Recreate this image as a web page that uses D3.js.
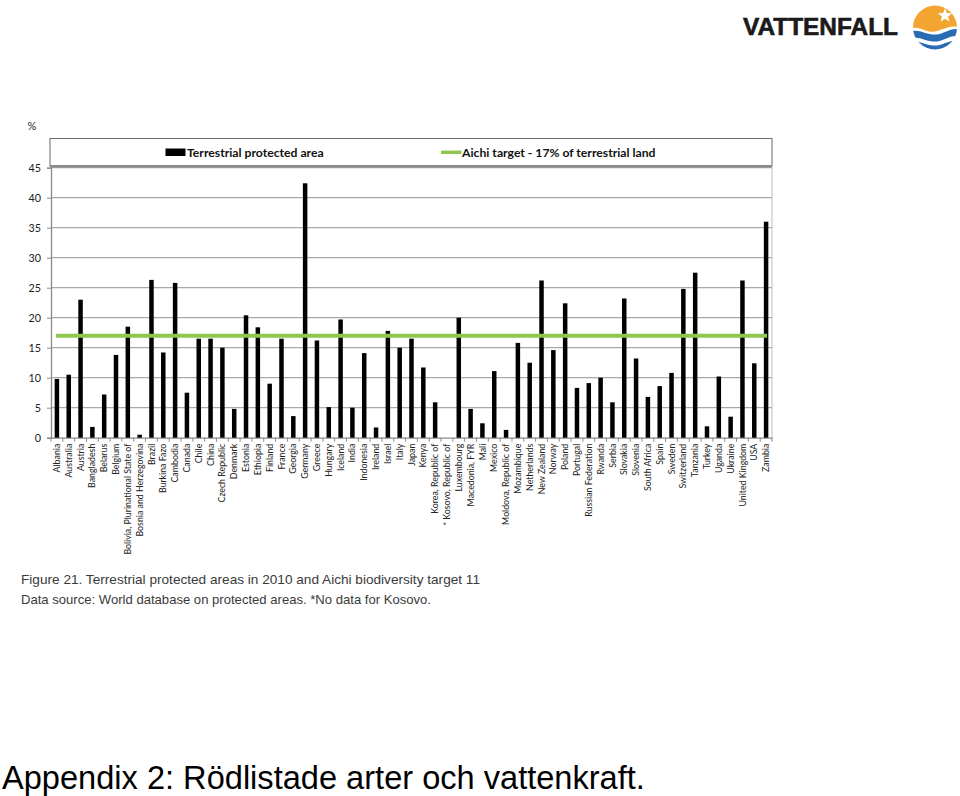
<!DOCTYPE html>
<html>
<head>
<meta charset="utf-8">
<script src="https://cdn.jsdelivr.net/npm/d3@7/dist/d3.min.js"></script>
<style>
  html, body { margin: 0; padding: 0; background: #fff; }
  svg { display: block; }
</style>
</head>
<body>
<svg id="chart" width="960" height="796"></svg>
<script>
// ---------- DATA ----------
const countries = [
  "Albania","Australia","Austria","Bangladesh","Belarus","Belgium",
  "Bolivia, Plurinational State of","Bosnia and Herzegovina","Brazil","Burkina Fazo",
  "Cambodia","Canada","Chile","China","Czech Republic","Denmark","Estonia","Ethiopia",
  "Finland","France","Georgia","Germany","Greece","Hungary","Iceland","India",
  "Indonesia","Ireland","Israel","Italy","Japan","Kenya","Korea, Republic of",
  "* Kosovo, Republic of","Luxembourg","Macedonia, FYR","Mali","Mexico",
  "Moldova, Republic of","Mozambique","Netherlands","New Zealand","Norway","Poland",
  "Portugal","Russian Federation","Rwanda","Serbia","Slovakia","Slovenia",
  "South Africa","Spain","Sweden","Switzerland","Tanzania","Turkey","Uganda",
  "Ukraine","United Kingdom","USA","Zambia"
];
const protectedArea = [
  9.8, 10.5, 23.0, 1.8, 7.2, 13.8,
  18.5, 0.5, 26.3, 14.2,
  25.8, 7.5, 16.5, 16.5, 15.0, 4.8, 20.4, 18.4,
  9.0, 16.5, 3.6, 42.4, 16.2, 5.1, 19.7, 5.0,
  14.1, 1.7, 17.8, 15.0, 16.5, 11.7, 5.9,
  null, 20.0, 4.8, 2.4, 11.1,
  1.3, 15.8, 12.5, 26.2, 14.6, 22.4,
  8.3, 9.1, 10.0, 5.9, 23.2, 13.2,
  6.8, 8.6, 10.8, 24.8, 27.5, 1.9, 10.2,
  3.5, 26.2, 12.4, 36.0
];
const aichiTarget = 17;
const yTicks = [0, 5, 10, 15, 20, 25, 30, 35, 40, 45];
const legendLabels = ["Terrestrial protected area", "Aichi target - 17% of terrestrial land"];
const yUnit = "%";
const captionLines = [
  "Figure 21. Terrestrial protected areas in 2010 and Aichi biodiversity target 11",
  "Data source: World database on protected areas. *No data for Kosovo."
];
const pageTitle = "Appendix 2: Rödlistade arter och vattenkraft.";
const brand = "VATTENFALL";

// ---------- LAYOUT ----------
const svg = d3.select("#chart");
const plot = { left: 51, right: 772, top: 167.7, bottom: 437.7 };
const chartFont = "Lato, 'DejaVu Sans', sans-serif";

const x = d3.scaleBand()
  .domain(countries)
  .range([plot.left, plot.right])
  .paddingInner(0.62)
  .paddingOuter(0.31);

const y = d3.scaleLinear()
  .domain([0, 45])
  .range([plot.bottom, plot.top]);

// gridlines
svg.append("g")
  .selectAll("line")
  .data(yTicks.filter(d => d > 0))
  .join("line")
  .attr("x1", plot.left).attr("x2", plot.right)
  .attr("y1", d => y(d)).attr("y2", d => y(d))
  .attr("stroke", "#a9a9a9")
  .attr("stroke-width", 1.3);

// right border of plot
svg.append("line")
  .attr("x1", plot.right).attr("x2", plot.right)
  .attr("y1", plot.top).attr("y2", plot.bottom)
  .attr("stroke", "#bdbdbd").attr("stroke-width", 1);

// legend box
svg.append("rect")
  .attr("x", 50).attr("y", 138.5)
  .attr("width", plot.right - 50).attr("height", 27.5)
  .attr("fill", "#fff")
  .attr("stroke", "#6a6a6a").attr("stroke-width", 1);
svg.append("line")
  .attr("x1", 50).attr("x2", plot.right)
  .attr("y1", 166.2).attr("y2", 166.2)
  .attr("stroke", "#8a8a8a").attr("stroke-width", 2.6);

// legend items
const lg = svg.append("g").attr("font-family", chartFont).attr("font-weight", "bold")
  .attr("font-size", 12.2).attr("fill", "#111");
lg.append("rect").attr("x", 165.5).attr("y", 148.5).attr("width", 20).attr("height", 7.5).attr("fill", "#000");
lg.append("text").attr("x", 187).attr("y", 156.5).text(legendLabels[0]);
lg.append("line").attr("x1", 441).attr("x2", 461.5).attr("y1", 152.3).attr("y2", 152.3)
  .attr("stroke", "#8fc650").attr("stroke-width", 3.5);
lg.append("text").attr("x", 462).attr("y", 156.5).text(legendLabels[1]);

// y axis
const yAxis = d3.axisLeft(y).tickValues(yTicks).tickSize(4).tickPadding(6);
const yg = svg.append("g")
  .attr("transform", `translate(${plot.left},0)`)
  .call(yAxis);
yg.select(".domain").attr("stroke", "#8a8a8a").attr("stroke-width", 1.3);
yg.selectAll(".tick line").attr("stroke", "#8a8a8a");
yg.selectAll(".tick text")
  .attr("font-family", chartFont).attr("font-size", 10.8).attr("fill", "#222");

svg.append("text")
  .attr("x", 27.5).attr("y", 130)
  .attr("font-family", chartFont).attr("font-size", 11).attr("fill", "#222")
  .text(yUnit);

// x axis
const xAxis = d3.axisBottom(x).tickSize(0).tickFormat(d => d);
const xg = svg.append("g")
  .attr("transform", `translate(0,${plot.bottom})`)
  .call(xAxis);
xg.select(".domain").attr("stroke", "#8a8a8a").attr("stroke-width", 1.3);
xg.selectAll(".tick text")
  .attr("font-family", chartFont).attr("font-size", 8.8).attr("fill", "#222")
  .attr("text-anchor", "end")
  .attr("transform", "translate(0,6) rotate(-90)")
  .attr("x", 0).attr("y", 0).attr("dy", "0.35em");

// x separator ticks between categories
const step = x.step();
svg.append("g")
  .selectAll("line")
  .data(countries.concat(["__end"]))
  .join("line")
  .attr("x1", (d, i) => plot.left + i * step)
  .attr("x2", (d, i) => plot.left + i * step)
  .attr("y1", plot.bottom).attr("y2", plot.bottom + 4)
  .attr("stroke", "#8a8a8a");

// bars
svg.append("g")
  .selectAll("rect")
  .data(countries.map((c, i) => ({ c, v: protectedArea[i] })).filter(d => d.v != null))
  .join("rect")
  .attr("x", d => x(d.c))
  .attr("width", x.bandwidth())
  .attr("y", d => y(d.v))
  .attr("height", d => y(0) - y(d.v))
  .attr("fill", "#000");

// Aichi target line
svg.append("line")
  .attr("x1", x(countries[0]) + x.bandwidth() / 2 - 1)
  .attr("x2", x(countries[countries.length - 1]) + x.bandwidth() / 2 + 1)
  .attr("y1", y(aichiTarget)).attr("y2", y(aichiTarget))
  .attr("stroke", "#8fc650").attr("stroke-width", 4);

// caption
const cap = svg.append("g").attr("font-family", "'Liberation Sans', Arial, sans-serif")
  .attr("font-size", 12.6).attr("fill", "#3a3a3a");
cap.append("text").attr("x", 21).attr("y", 584)
  .attr("textLength", 459).attr("lengthAdjust", "spacingAndGlyphs").text(captionLines[0]);
cap.append("text").attr("x", 21).attr("y", 604)
  .attr("textLength", 410).attr("lengthAdjust", "spacingAndGlyphs").text(captionLines[1]);

// page title
svg.append("text")
  .attr("x", 2).attr("y", 789)
  .attr("font-family", "'Liberation Sans', Arial, sans-serif")
  .attr("font-size", 32.6).attr("fill", "#000")
  .text(pageTitle);

// logo
svg.append("text")
  .attr("x", 743).attr("y", 35)
  .attr("font-family", "'Liberation Sans', Arial, sans-serif")
  .attr("font-weight", "bold").attr("font-size", 24)
  .attr("fill", "#1a1a1a").attr("stroke", "#1a1a1a").attr("stroke-width", 0.6)
  .attr("textLength", 155).attr("lengthAdjust", "spacingAndGlyphs")
  .text(brand);

const defs = svg.append("defs");
defs.append("clipPath").attr("id", "logoClip")
  .append("circle").attr("cx", 0).attr("cy", 0).attr("r", 22);
const logo = svg.append("g").attr("transform", "translate(935,27.5)");
const lc = logo.append("g").attr("clip-path", "url(#logoClip)");
lc.append("path")
  .attr("d", "M-24,-24 H24 V0 C14,-4 4,6 -6,4 C-14,2 -18,-1 -24,1 Z")
  .attr("fill", "#f3a532");
lc.append("path")
  .attr("d", "M-24,4 C-16,1 -8,8 2,7 C10,6 16,0 24,2 V9 C16,7 10,13 2,14 C-8,15 -16,8 -24,11 Z")
  .attr("fill", "#2a6cb4");
lc.append("path")
  .attr("d", "M-24,15 C-16,12 -8,19 2,18 C10,17 16,12 24,13 V24 H-24 Z")
  .attr("fill", "#2a6cb4");
const starPts = d3.range(10).map(i => {
  const a = -Math.PI / 2 + i * Math.PI / 5;
  const r = i % 2 === 0 ? 7.5 : 3.2;
  return [10 + r * Math.cos(a), -12 + r * Math.sin(a)];
});
logo.append("path").attr("d", d3.line()(starPts) + "Z").attr("fill", "#fff");
</script>
</body>
</html>
